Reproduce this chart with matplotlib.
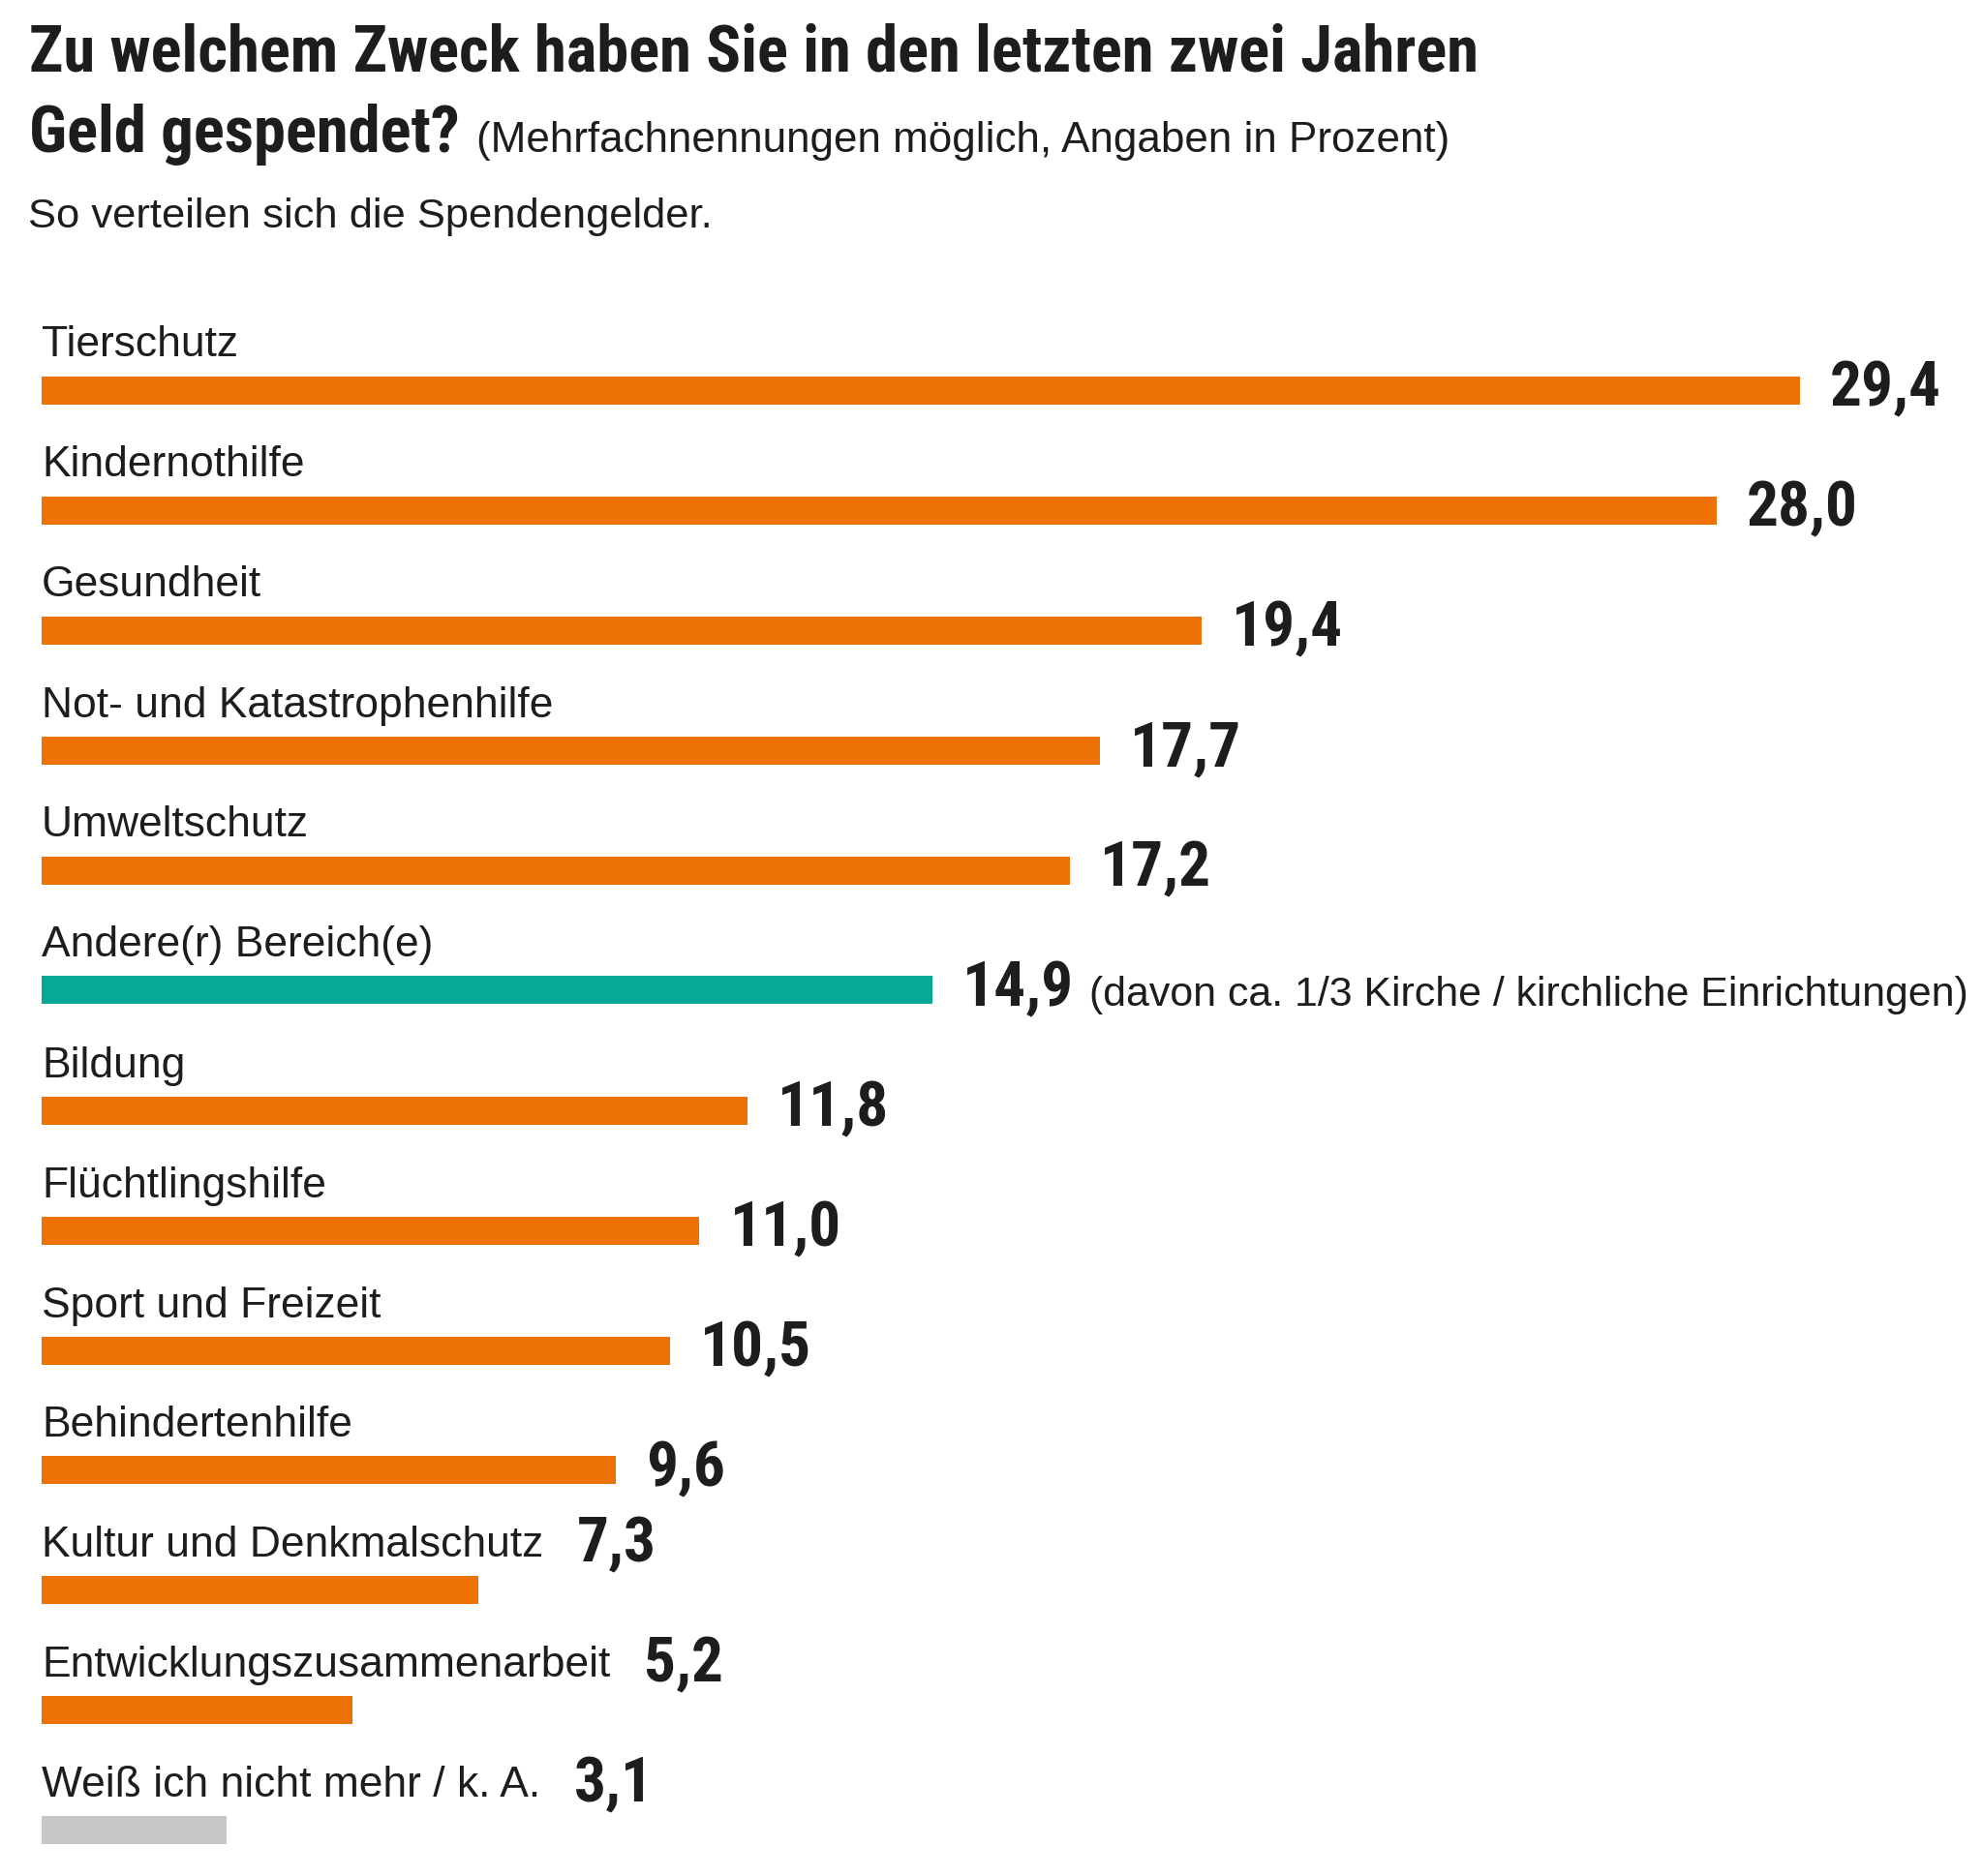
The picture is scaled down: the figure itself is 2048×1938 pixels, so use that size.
import matplotlib
matplotlib.use("Agg")
import matplotlib.pyplot as plt
from matplotlib import font_manager as fm

# ---------------- data ----------------
categories = [
    "Tierschutz",
    "Kindernothilfe",
    "Gesundheit",
    "Not- und Katastrophenhilfe",
    "Umweltschutz",
    "Andere(r) Bereich(e)",
    "Bildung",
    "Flüchtlingshilfe",
    "Sport und Freizeit",
    "Behindertenhilfe",
    "Kultur und Denkmalschutz",
    "Entwicklungszusammenarbeit",
    "Weiß ich nicht mehr / k. A.",
]
values = [29.4, 28.0, 19.4, 17.7, 17.2, 14.9, 11.8, 11.0, 10.5, 9.6, 7.3, 5.2, 3.1]
value_labels = ["29,4", "28,0", "19,4", "17,7", "17,2", "14,9", "11,8",
                "11,0", "10,5", "9,6", "7,3", "5,2", "3,1"]
ORANGE, TEAL, GREY = "#EE7203", "#06A896", "#C6C6C6"
bar_colors = [ORANGE] * 5 + [TEAL] + [ORANGE] * 6 + [GREY]
note_text = "(davon ca. 1/3 Kirche / kirchliche Einrichtungen)"
note_index = 5
title_line1 = "Zu welchem Zweck haben Sie in den letzten zwei Jahren"
title_line2 = "Geld gespendet?"
title_paren = "(Mehrfachnennungen möglich, Angaben in Prozent)"
subtitle = "So verteilen sich die Spendengelder."


# ---------------- fonts ----------------
def pick(prefs, min_weight):
    for name in prefs:
        for f in fm.fontManager.ttflist:
            try:
                w = int(f.weight)
            except (TypeError, ValueError):
                w = 400
            if f.name == name and f.style == "normal" and w >= min_weight:
                return name
    return "Liberation Sans"


COND = pick(["Roboto Condensed", "Archivo Narrow", "PT Sans Narrow",
             "IBM Plex Sans Condensed", "Open Sans Condensed"], 700)
NARROW = [COND, "DejaVu Sans"]
REG = ["Liberation Sans", "DejaVu Sans"]

# ---------------- layout ----------------
W, H, DPI = 2048, 1938, 100
TXT = "#1d1d1b"

fig = plt.figure(figsize=(W / DPI, H / DPI), dpi=DPI)
fig.patch.set_facecolor("white")
ax = fig.add_axes([0, 0, 1, 1])
bar_left_px = 43
px_per_unit = (1859 - bar_left_px) / 29.4
ax.set_xlim(-bar_left_px / px_per_unit, (W - bar_left_px) / px_per_unit)
row_px, first_px = 124, 403
ax.set_ylim((H - first_px) / row_px, -first_px / row_px)
ax.axis("off")

bar_h_px = 29
ax.barh(range(len(values)), values, height=bar_h_px / row_px,
        color=bar_colors, edgecolor="none")

renderer = fig.canvas.get_renderer()


def fit(t, target):
    w = t.get_window_extent(renderer).width
    t.set_fontsize(t.get_fontsize() * target / w)


def fx(x):
    return x / W


def fy(y):
    return 1 - y / H


# titles
t1 = fig.text(fx(30), fy(73), title_line1, family=NARROW, weight="bold",
              fontsize=50, color=TXT, va="baseline", ha="left")
fit(t1, 1498)
t2 = fig.text(fx(30), fy(157), title_line2, family=NARROW, weight="bold",
              fontsize=t1.get_fontsize(), color=TXT, va="baseline", ha="left")
x2 = t2.get_window_extent(renderer).x1
t3 = fig.text(fx(x2 + 17), fy(157), title_paren, family=REG,
              fontsize=27, color=TXT, va="baseline", ha="left")
fit(t3, 1005)
t4 = fig.text(fx(29), fy(235), subtitle, family=REG, fontsize=28,
              color=TXT, va="baseline", ha="left")
fit(t4, 705)

# category labels
label_objs = []
for i, cat in enumerate(categories):
    lt = ax.annotate(cat, xy=(0, i), xytext=(0, bar_h_px / 2 + 20),
                     textcoords="offset pixels", family=REG,
                     fontsize=30, color=TXT, va="baseline", ha="left")
    label_objs.append(lt)
fit(label_objs[11], 586)
for lt in label_objs:
    lt.set_fontsize(label_objs[11].get_fontsize())

# size of value numbers: "29,4" is about 112 px wide in the reference
probe = fig.text(0, 0, value_labels[0], family=NARROW, weight="bold", fontsize=50)
fit(probe, 115)
num_size = probe.get_fontsize()
probe.remove()

# value labels
for i, (v, lab) in enumerate(zip(values, value_labels)):
    lab_ext = label_objs[i].get_window_extent(renderer)
    bar_end = ax.transData.transform((v, i))[0]
    if lab_ext.x1 > bar_end:
        x0 = ax.transData.transform((0, i))[0]
        nt = ax.annotate(lab, xy=(0, i),
                         xytext=(lab_ext.x1 - x0 + 35, bar_h_px / 2 + 20 - 5),
                         textcoords="offset pixels", family=NARROW,
                         weight="bold", fontsize=num_size, color=TXT,
                         va="baseline", ha="left")
    else:
        nt = ax.annotate(lab, xy=(v, i), xytext=(31, -(bar_h_px / 2 + 2)),
                         textcoords="offset pixels", family=NARROW,
                         weight="bold", fontsize=num_size, color=TXT,
                         va="baseline", ha="left")
    if i == note_index:
        ne = nt.get_window_extent(renderer)
        start = ne.x1 + 16
        note = ax.annotate(note_text, xy=(v, i),
                           xytext=(start - bar_end, -(bar_h_px / 2 + 2)),
                           textcoords="offset pixels", family=REG,
                           fontsize=label_objs[0].get_fontsize(), color=TXT,
                           va="baseline", ha="left")
        fit(note, min(note.get_window_extent(renderer).width, 2034 - start))

fig.savefig("out.png", dpi=DPI, facecolor="white")
